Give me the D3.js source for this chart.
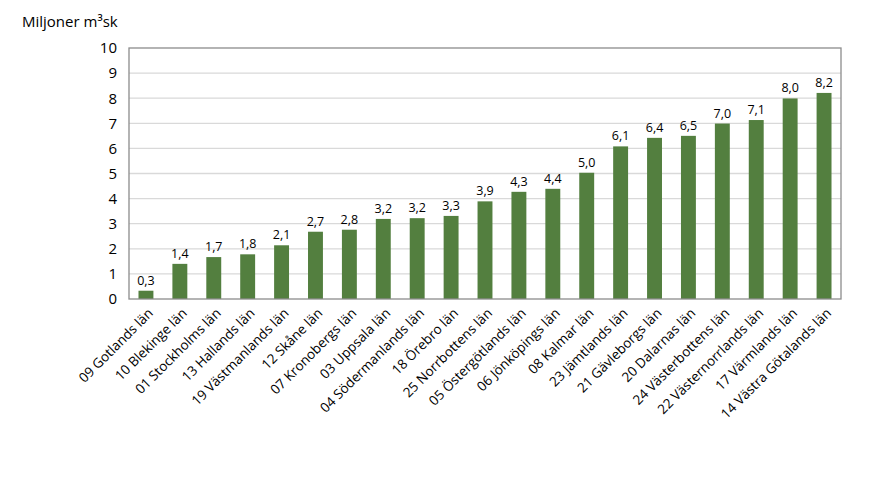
<!DOCTYPE html>
<html><head><meta charset="utf-8">
<script src="https://cdn.jsdelivr.net/npm/d3@7"></script>
<style>body{margin:0;background:#fff}text{font-family:"Open Sans",sans-serif;fill:#000}</style>
</head><body>
<svg id="c" width="874" height="491"></svg>
<script>
const categories = ["09 Gotlands län","10 Blekinge län","01 Stockholms län","13 Hallands län","19 Västmanlands län","12 Skåne län","07 Kronobergs län","03 Uppsala län","04 Södermanlands län","18 Örebro län","25 Norrbottens län","05 Östergötlands län","06 Jönköpings län","08 Kalmar län","23 Jämtlands län","21 Gävleborgs län","20 Dalarnas län","24 Västerbottens län","22 Västernorrlands län","17 Värmlands län","14 Västra Götalands län"];
const values = [0.33,1.4,1.67,1.78,2.14,2.68,2.76,3.19,3.22,3.31,3.89,4.27,4.39,5.03,6.08,6.42,6.5,6.99,7.13,7.99,8.21];
const yTicks = [0,1,2,3,4,5,6,7,8,9,10];
const yTitle = "Miljoner m³sk";

const svg = d3.select("#c");
const m = {l:129, r:841, t:48, b:299};
const x = d3.scaleBand().domain(categories).range([m.l, m.r]).paddingInner(0.56).paddingOuter(0.28);
const y = d3.scaleLinear().domain([0,10]).range([m.b, m.t]);

// gridlines
svg.append("g").selectAll("line").data(yTicks.filter(d=>d>0&&d<10)).join("line")
  .attr("x1", m.l).attr("x2", m.r).attr("y1", d=>y(d)).attr("y2", d=>y(d))
  .attr("stroke", "#d9d9d9").attr("stroke-width", 1.3);

// bars
svg.append("g").selectAll("rect").data(values).join("rect")
  .attr("x", (d,i)=>x(categories[i])).attr("width", x.bandwidth())
  .attr("y", d=>y(d)).attr("height", d=>y(0)-y(d)).attr("fill", "#537f3f");

// plot border
svg.append("rect").attr("x", m.l).attr("y", m.t).attr("width", m.r-m.l).attr("height", m.b-m.t)
  .attr("fill","none").attr("stroke","#8c8c8c").attr("stroke-width",1.3);

// value labels
svg.append("g").selectAll("text").data(values).join("text")
  .attr("x", (d,i)=>x(categories[i])+x.bandwidth()/2).attr("y", d=>y(d)-6)
  .attr("text-anchor","middle").attr("font-size", 12.5)
  .text(d=>d3.format(".1f")(d).replace(".", ","));

// y axis
const yAxis = d3.axisLeft(y).tickValues(yTicks).tickSize(0).tickPadding(12);
const ga = svg.append("g").attr("transform", `translate(${m.l},0)`).call(yAxis);
ga.select(".domain").remove();
ga.selectAll("text").attr("font-size", 15).attr("font-family", "'Open Sans',sans-serif").attr("fill","#000");

// x axis labels
const xAxis = d3.axisBottom(x).tickSize(0).tickPadding(0);
const gx = svg.append("g").attr("transform", `translate(0,${m.b})`).call(xAxis);
gx.select(".domain").remove();
gx.selectAll("text").attr("font-size", 13.5).attr("font-family", "'Open Sans',sans-serif").attr("fill","#000")
  .attr("text-anchor","end").attr("dy", 0)
  .attr("transform", "translate(8,15) rotate(-45)");

// title
svg.append("text").attr("x", 22).attr("y", 27).attr("font-size", 15).text(yTitle);
</script>
</body></html>
